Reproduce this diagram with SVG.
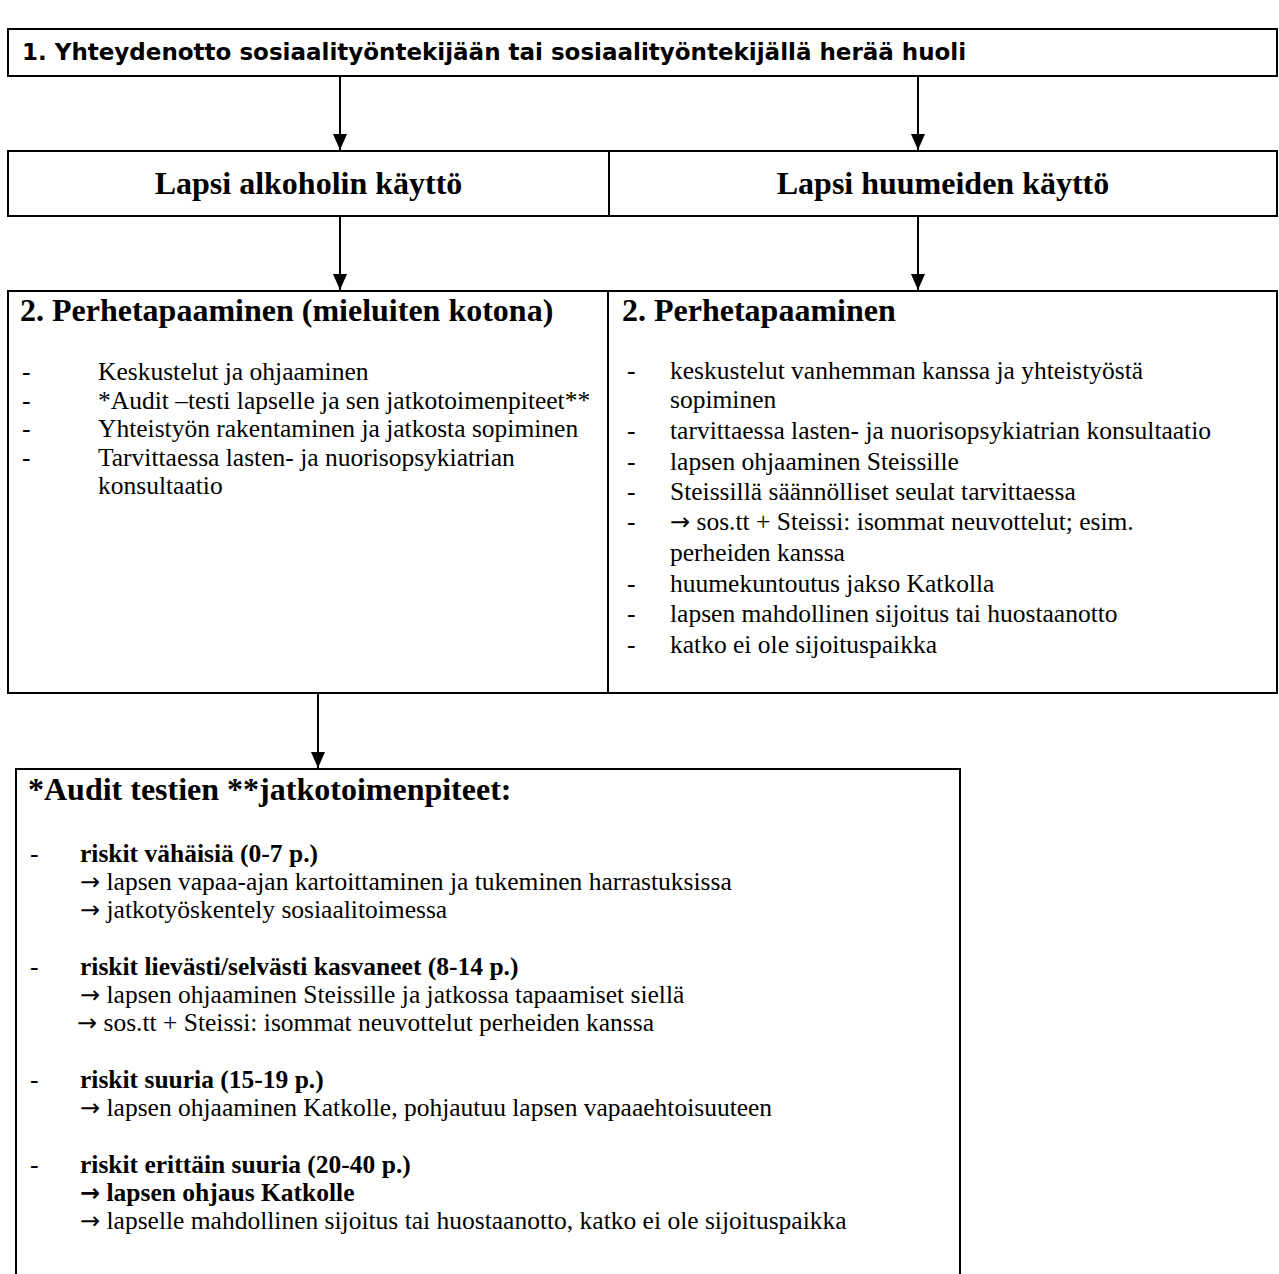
<svg xmlns="http://www.w3.org/2000/svg" width="1279" height="1274" viewBox="0 0 1279 1274">
<style>
.box{fill:#fff;stroke:#000;stroke-width:2}
.open{fill:none;stroke:#000;stroke-width:2}
.conn{stroke:#000;stroke-width:2;fill:none}
.sans{font-family:"DejaVu Sans","Verdana",sans-serif;font-weight:bold;font-size:23px;fill:#000}
.head{font-family:"Liberation Serif","Times New Roman",serif;font-weight:bold;font-size:32px;fill:#000}
.body{font-family:"Liberation Serif","Times New Roman",serif;font-size:25.5px;fill:#000}
.b{font-weight:bold}
.ar{font-family:"DejaVu Sans",sans-serif;font-size:24px}
</style>
<defs>
<marker id="ah" markerUnits="userSpaceOnUse" markerWidth="16" markerHeight="14" refX="16" refY="7" orient="auto" viewBox="0 0 16 14">
<path d="M0,0 L16,7 L0,14 Z" fill="#000"/>
</marker>
</defs>
<rect width="1279" height="1274" fill="#fff"/>

<g id="node-start">
<rect class="box" x="8" y="29" width="1269" height="47"/>
<text class="sans" x="22" y="60">1. Yhteydenotto sosiaalityöntekijään tai sosiaalityöntekijällä herää huoli</text>
</g>

<g id="node-alkoholi">
<rect class="box" x="8" y="151" width="601" height="65"/>
<text class="head" x="308.5" y="194" text-anchor="middle">Lapsi alkoholin käyttö</text>
</g>

<g id="node-huumeet">
<rect class="box" x="609" y="151" width="668" height="65"/>
<text class="head" x="943" y="194" text-anchor="middle">Lapsi huumeiden käyttö</text>
</g>

<g id="node-perhe-alkoholi">
<rect class="box" x="8" y="291" width="600" height="402"/>
<text class="head" x="20" y="321">2. Perhetapaaminen (mieluiten kotona)</text>
<g class="body">
<text x="22" y="380">-</text><text x="98" y="380">Keskustelut ja ohjaaminen</text>
<text x="22" y="408.5">-</text><text x="98" y="408.5">*Audit –testi lapselle ja sen jatkotoimenpiteet**</text>
<text x="22" y="437">-</text><text x="98" y="437">Yhteistyön rakentaminen ja jatkosta sopiminen</text>
<text x="22" y="465.5">-</text><text x="98" y="465.5">Tarvittaessa lasten- ja nuorisopsykiatrian</text>
<text x="98" y="494">konsultaatio</text>
</g>
</g>

<g id="node-perhe-huumeet">
<rect class="box" x="608" y="291" width="669" height="402"/>
<text class="head" x="622" y="321">2. Perhetapaaminen</text>
<g class="body">
<text x="627" y="379">-</text><text x="670" y="379">keskustelut vanhemman kanssa ja yhteistyöstä</text>
<text x="670" y="408">sopiminen</text>
<text x="627" y="439">-</text><text x="670" y="439">tarvittaessa lasten- ja nuorisopsykiatrian konsultaatio</text>
<text x="627" y="470">-</text><text x="670" y="470">lapsen ohjaaminen Steissille</text>
<text x="627" y="500">-</text><text x="670" y="500">Steissillä säännölliset seulat tarvittaessa</text>
<text x="627" y="530">-</text><text x="670" y="530"><tspan class="ar">→</tspan> sos.tt + Steissi: isommat neuvottelut; esim.</text>
<text x="670" y="561">perheiden kanssa</text>
<text x="627" y="592">-</text><text x="670" y="592">huumekuntoutus jakso Katkolla</text>
<text x="627" y="622">-</text><text x="670" y="622">lapsen mahdollinen sijoitus tai huostaanotto</text>
<text x="627" y="653">-</text><text x="670" y="653">katko ei ole sijoituspaikka</text>
</g>
</g>

<g id="node-audit">
<path class="open" d="M16,1274 V769 H960 V1274"/>
<text class="head" x="28" y="800">*Audit testien **jatkotoimenpiteet:</text>
<g class="body">
<text x="30" y="862">-</text><text class="b" x="80" y="862">riskit vähäisiä (0-7 p.)</text>
<text x="80" y="890"><tspan class="ar">→</tspan> lapsen vapaa-ajan kartoittaminen ja tukeminen harrastuksissa</text>
<text x="80" y="918"><tspan class="ar">→</tspan> jatkotyöskentely sosiaalitoimessa</text>
<text x="30" y="975">-</text><text class="b" x="80" y="975">riskit lievästi/selvästi kasvaneet (8-14 p.)</text>
<text x="80" y="1003"><tspan class="ar">→</tspan> lapsen ohjaaminen Steissille ja jatkossa tapaamiset siellä</text>
<text x="77" y="1031"><tspan class="ar">→</tspan> sos.tt + Steissi: isommat neuvottelut perheiden kanssa</text>
<text x="30" y="1088">-</text><text class="b" x="80" y="1088">riskit suuria (15-19 p.)</text>
<text x="80" y="1116"><tspan class="ar">→</tspan> lapsen ohjaaminen Katkolle, pohjautuu lapsen vapaaehtoisuuteen</text>
<text x="30" y="1173">-</text><text class="b" x="80" y="1173">riskit erittäin suuria (20-40 p.)</text>
<text class="b" x="80" y="1201"><tspan class="ar">→</tspan> lapsen ohjaus Katkolle</text>
<text x="80" y="1229"><tspan class="ar">→</tspan> lapselle mahdollinen sijoitus tai huostaanotto, katko ei ole sijoituspaikka</text>
</g>
</g>

<g id="connectors">
<line class="conn" x1="340" y1="77" x2="340" y2="150" marker-end="url(#ah)"/>
<line class="conn" x1="918" y1="77" x2="918" y2="150" marker-end="url(#ah)"/>
<line class="conn" x1="340" y1="217" x2="340" y2="290" marker-end="url(#ah)"/>
<line class="conn" x1="918" y1="217" x2="918" y2="290" marker-end="url(#ah)"/>
<line class="conn" x1="318" y1="694" x2="318" y2="768" marker-end="url(#ah)"/>
</g>
</svg>
